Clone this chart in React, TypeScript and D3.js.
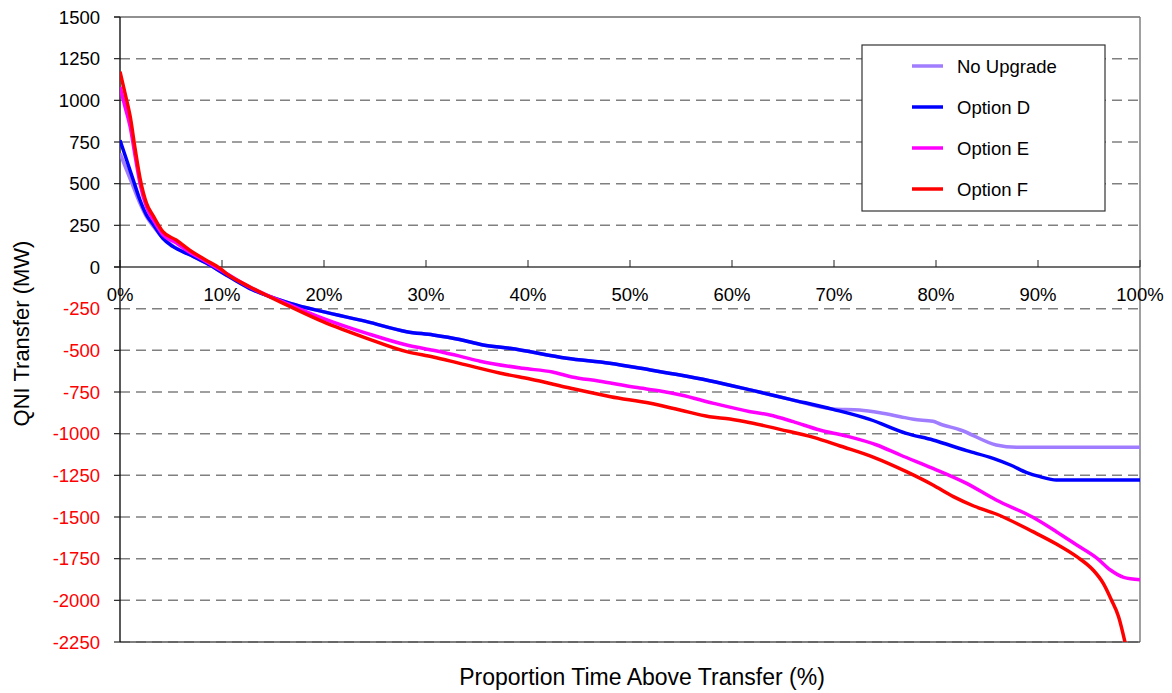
import React from "react";
import * as d3 from "d3";

// Duration curves: [proportion of time (%), QNI transfer (MW)]
const noUpgrade: [number, number][] = [
  [0, 682], [0.65, 582], [1.3, 482], [1.96, 382], [2.6, 302], [3.3, 242], [4.2, 175], [5.2, 125],
  [6.9, 72], [8.5, 22], [9.8, -25], [12.7, -128], [16.7, -218], [19.9, -268], [24.2, -328],
  [28.1, -388], [30.7, -408], [33.3, -435], [35.6, -468], [38.2, -488], [43.8, -548], [48, -578],
  [52, -618], [54.9, -648], [57.8, -682], [62.1, -742], [65.7, -794], [69.9, -852], [72.5, -858],
  [74.5, -874], [76.5, -898], [77.8, -914], [79.7, -926], [80.4, -942], [82.4, -978], [85.9, -1068],
  [87.9, -1082], [100, -1082],
];

const optionD: [number, number][] = [
  [0, 760], [0.65, 642], [1.3, 522], [1.96, 402], [2.6, 312], [3.3, 252], [4.2, 172], [5.2, 122],
  [6.9, 72], [8.5, 22], [9.8, -25], [12.7, -128], [16.7, -218], [19.9, -268], [24.2, -328],
  [28.1, -388], [30.7, -408], [33.3, -435], [35.6, -468], [38.2, -488], [43.8, -548], [48, -578],
  [52, -618], [54.9, -648], [57.8, -682], [62.1, -742], [65.7, -794], [69.9, -854], [73.5, -914],
  [77.1, -998], [79.7, -1038], [83, -1102], [85.6, -1148], [87.3, -1188], [88.9, -1234],
  [90.2, -1258], [91.8, -1278], [100, -1278],
];

const optionE: [number, number][] = [
  [0, 1080], [0.5, 960], [1, 840], [1.5, 660], [2, 490], [2.6, 360], [3.3, 280], [4.2, 195],
  [5.5, 145], [6.8, 90], [8.4, 35], [9.8, -15], [12.7, -120], [16.7, -228], [19.9, -308],
  [24.2, -398], [28.1, -468], [30.7, -500], [33.3, -535], [35.3, -565], [39.5, -608], [42.4, -630],
  [44.3, -660], [46.9, -684], [50.5, -722], [53.1, -745], [55, -768], [58.2, -818], [61.8, -868],
  [63.7, -888], [66, -928], [68.6, -978], [71.2, -1014], [74.2, -1068], [76.5, -1128],
  [79.7, -1208], [83, -1298], [85.9, -1398], [89.5, -1502], [91.8, -1588], [93.8, -1668],
  [95.8, -1748], [97.1, -1818], [98.4, -1862], [100, -1876],
];

const optionF: [number, number][] = [
  [0, 1172], [0.5, 1040], [1, 902], [1.5, 702], [2, 522], [2.6, 382], [3.3, 302], [4.2, 212],
  [5.5, 162], [6.8, 102], [8.4, 42], [9.8, -8], [10.4, -38], [12.7, -118], [16.7, -238],
  [19.9, -328], [24.2, -428], [28.1, -508], [30.7, -540], [33.3, -578], [37.9, -645],
  [40.2, -672], [44.2, -728], [48.1, -778], [52, -818], [54.9, -858], [57.8, -898], [59.8, -912],
  [61.8, -934], [64.7, -974], [68, -1022], [70.6, -1074], [73.9, -1142], [77.1, -1228],
  [79.7, -1308], [81.7, -1378], [83.7, -1434], [85.9, -1482], [89.5, -1588], [91.8, -1662],
  [93.8, -1738], [95.4, -1818], [96.4, -1898], [97.2, -1998], [97.9, -2098], [98.6, -2270],
];

const seriesNames = ["No Upgrade", "Option D", "Option E", "Option F"];
const seriesData = [noUpgrade, optionD, optionE, optionF];
const seriesColors = ["#a07cff", "#0000ff", "#ff00ff", "#ff0000"];

const yTicks = [1500, 1250, 1000, 750, 500, 250, 0, -250, -500, -750, -1000, -1250, -1500, -1750, -2000, -2250];
const xTicks = [0, 10, 20, 30, 40, 50, 60, 70, 80, 90, 100];

const W = 1172;
const H = 693;
const plot = { left: 120, right: 1140, top: 17, bottom: 642 };
const FONT = "'Liberation Sans', Arial, sans-serif";

export default function App() {
  const x = d3.scaleLinear().domain([0, 100]).range([plot.left, plot.right]);
  const y = d3.scaleLinear().domain([-2250, 1500]).range([plot.bottom, plot.top]);
  const line = d3
    .line<[number, number]>()
    .x((d) => x(d[0]))
    .y((d) => y(d[1]))
    .curve(d3.curveMonotoneX);

  return (
    <svg
      width={W}
      height={H}
      style={{ position: "absolute", left: 0, top: 0, background: "#fff" }}
      fontFamily={FONT}
    >
      <defs>
        <clipPath id="plotClip">
          <rect x={plot.left} y={plot.top} width={plot.right - plot.left} height={plot.bottom - plot.top} />
        </clipPath>
      </defs>

      {/* horizontal gridlines */}
      {yTicks.map((t) =>
        t === 0 || t === 1500 ? null : (
          <line
            key={`g${t}`}
            x1={plot.left}
            x2={plot.right}
            y1={y(t)}
            y2={y(t)}
            stroke="#808080"
            strokeWidth={1.5}
            strokeDasharray="10,6"
          />
        )
      )}

      {/* frame */}
      <line x1={plot.left - 6} x2={plot.right} y1={y(1500)} y2={y(1500)} stroke="#222" strokeWidth={1.2} />
      <line x1={plot.right} x2={plot.right} y1={plot.top} y2={plot.bottom} stroke="#808080" strokeWidth={1.5} />
      <line
        x1={plot.left}
        x2={plot.right}
        y1={plot.bottom}
        y2={plot.bottom}
        stroke="#555"
        strokeWidth={1.5}
      />

      {/* zero line with category ticks */}
      <line x1={plot.left - 6} x2={plot.right} y1={y(0)} y2={y(0)} stroke="#404040" strokeWidth={1.3} />
      {xTicks.map((t) => (
        <line key={`xt${t}`} x1={x(t)} x2={x(t)} y1={y(0) - 7} y2={y(0)} stroke="#222" strokeWidth={1} />
      ))}

      {/* y axis */}
      <line x1={plot.left} x2={plot.left} y1={plot.top} y2={plot.bottom} stroke="#000" strokeWidth={1.3} />
      {yTicks.map((t) => (
        <g key={`yt${t}`}>
          <line x1={plot.left - 6} x2={plot.left} y1={y(t)} y2={y(t)} stroke="#222" strokeWidth={1.2} />
          <text
            x={plot.left - 20}
            y={y(t)}
            dy="0.36em"
            textAnchor="end"
            fontSize={18.5}
            fill={t < 0 ? "#ff0000" : "#000"}
          >
            {t}
          </text>
        </g>
      ))}

      {/* x tick labels */}
      {xTicks.map((t) => (
        <text key={`xl${t}`} x={x(t)} y={301} textAnchor="middle" fontSize={18.5} fill="#000">
          {`${t}%`}
        </text>
      ))}

      {/* series */}
      <g clipPath="url(#plotClip)">
        {seriesData.map((d, i) => (
          <path
            key={seriesNames[i]}
            d={line(d) ?? ""}
            fill="none"
            stroke={seriesColors[i]}
            strokeWidth={3.5}
            strokeLinejoin="round"
          />
        ))}
      </g>

      {/* axis titles */}
      <text x={642} y={685} textAnchor="middle" fontSize={23} fill="#000">
        Proportion Time Above Transfer (%)
      </text>
      <text
        transform={`translate(29,${(plot.top + plot.bottom) / 2 + 4}) rotate(-90)`}
        textAnchor="middle"
        fontSize={22}
        fill="#000"
      >
        QNI Transfer (MW)
      </text>

      {/* legend */}
      <rect x={862} y={45} width={243} height={166} fill="#fff" stroke="#333" strokeWidth={1.2} />
      {seriesNames.map((name, i) => {
        const ly = 66 + i * 41;
        return (
          <g key={`lg${name}`}>
            <line x1={912} x2={943} y1={ly} y2={ly} stroke={seriesColors[i]} strokeWidth={3.5} />
            <text x={957} y={ly} dy="0.36em" fontSize={18.5} fill="#000">
              {name}
            </text>
          </g>
        );
      })}
    </svg>
  );
}
